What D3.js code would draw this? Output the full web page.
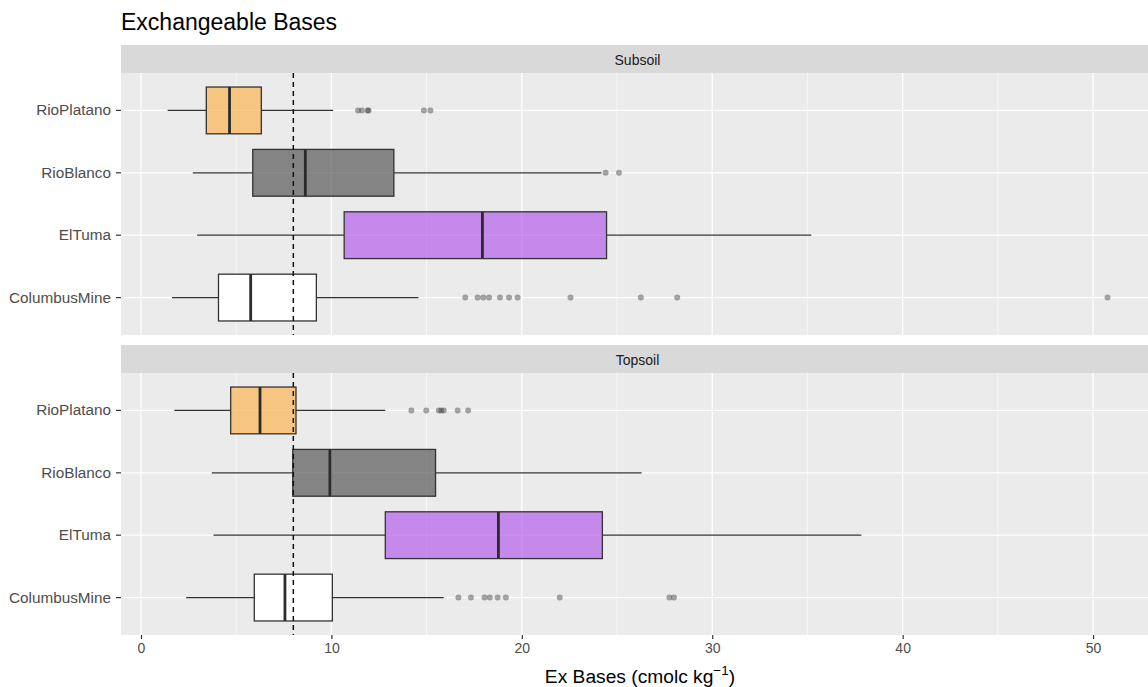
<!DOCTYPE html>
<html>
<head>
<meta charset="utf-8">
<script src="https://cdn.jsdelivr.net/npm/d3@7"></script>
<style>
  html, body { margin: 0; padding: 0; background: #fff; }
  svg { display: block; font-family: "Liberation Sans", Arial, Helvetica, sans-serif; }
</style>
</head>
<body>
<svg id="chart" width="1148" height="687"></svg>
<script>
// ---- Data ----
const sites = ["RioPlatano", "RioBlanco", "ElTuma", "ColumbusMine"];
const layers = ["Subsoil", "Topsoil"];
const siteColors = ["#FBB552", "#595959", "#B55FEC", "#FFFFFF"];

// [whiskerLow, Q1, median, Q3, whiskerHigh] per site
const subsoilStats = [
  [1.4, 3.43, 4.65, 6.32, 10.09],
  [2.72, 5.87, 8.63, 13.28, 24.18],
  [2.95, 10.67, 17.93, 24.45, 35.2],
  [1.63, 4.07, 5.76, 9.21, 14.57]
];
const topsoilStats = [
  [1.75, 4.71, 6.25, 8.14, 12.83],
  [3.72, 7.97, 9.92, 15.47, 26.29],
  [3.81, 12.83, 18.77, 24.23, 37.83],
  [2.37, 5.95, 7.56, 10.05, 15.9]
];
const subsoilOutliers = [
  [11.4, 11.6, 11.9, 11.95, 14.86, 15.2],
  [24.4, 25.1],
  [],
  [17.03, 17.68, 17.98, 18.28, 18.85, 19.33, 19.78, 22.56, 26.25, 28.16, 50.76]
];
const topsoilOutliers = [
  [14.2, 14.98, 15.64, 15.77, 15.9, 16.63, 17.18],
  [],
  [],
  [16.67, 17.33, 18.04, 18.32, 18.73, 19.16, 21.99, 27.75, 27.99]
];
const xTicks = [0, 10, 20, 30, 40, 50];
const xMinorTicks = [5, 15, 25, 35, 45];
const referenceLine = 8;

// ---- Layout ----
const svg = d3.select("#chart");
const panelLeft = 121, panelRight = 1154;
const panels = [
  { name: layers[0], stats: subsoilStats, outliers: subsoilOutliers, stripTop: 45, top: 73, bottom: 335 },
  { name: layers[1], stats: topsoilStats, outliers: topsoilOutliers, stripTop: 345, top: 373, bottom: 635 }
];

const x = d3.scaleLinear().domain([-1.05, 53.2]).range([panelLeft, panelRight]);

// Title
svg.append("text")
  .attr("x", 121).attr("y", 30)
  .attr("font-size", 23).attr("fill", "#000")
  .text("Exchangeable Bases");

panels.forEach(p => {
  const g = svg.append("g");
  // strip
  g.append("rect").attr("x", panelLeft).attr("y", p.stripTop)
    .attr("width", panelRight - panelLeft).attr("height", p.top - p.stripTop)
    .attr("fill", "#d9d9d9");
  g.append("text").attr("x", (panelLeft + panelRight) / 2).attr("y", p.stripTop + 19.5)
    .attr("text-anchor", "middle").attr("font-size", 14).attr("fill", "#1a1a1a")
    .text(p.name);
  // panel background
  g.append("rect").attr("x", panelLeft).attr("y", p.top)
    .attr("width", panelRight - panelLeft).attr("height", p.bottom - p.top)
    .attr("fill", "#ebebeb");

  // ggplot discrete axis: positions 1..n with 0.6 expansion on each side
  const step = (p.bottom - p.top) / (sites.length - 1 + 1.2);
  const yp = d => p.top + step * (0.6 + sites.indexOf(d));
  const bh = step * 0.75;

  // minor grid
  g.selectAll(".minor").data(xMinorTicks).enter().append("line")
    .attr("x1", d => x(d)).attr("x2", d => x(d))
    .attr("y1", p.top).attr("y2", p.bottom)
    .attr("stroke", "#fff").attr("stroke-width", 0.6);
  // major grid
  g.selectAll(".major").data(xTicks).enter().append("line")
    .attr("x1", d => x(d)).attr("x2", d => x(d))
    .attr("y1", p.top).attr("y2", p.bottom)
    .attr("stroke", "#fff").attr("stroke-width", 1.3);
  g.selectAll(".hgrid").data(sites).enter().append("line")
    .attr("x1", panelLeft).attr("x2", panelRight)
    .attr("y1", d => yp(d)).attr("y2", d => yp(d))
    .attr("stroke", "#fff").attr("stroke-width", 1.3);

  // boxes
  sites.forEach((s, i) => {
    const st = p.stats[i];
    const cy = yp(s);
    const bg = g.append("g");
    bg.append("line").attr("x1", x(st[0])).attr("x2", x(st[1])).attr("y1", cy).attr("y2", cy)
      .attr("stroke", "#333").attr("stroke-width", 1.2);
    bg.append("line").attr("x1", x(st[3])).attr("x2", x(st[4])).attr("y1", cy).attr("y2", cy)
      .attr("stroke", "#333").attr("stroke-width", 1.2);
    bg.append("rect").attr("x", x(st[1])).attr("y", cy - bh / 2)
      .attr("width", x(st[3]) - x(st[1])).attr("height", bh)
      .attr("fill", siteColors[i]).attr("fill-opacity", s === "ColumbusMine" ? 1 : 0.7)
      .attr("stroke", "#333").attr("stroke-width", 1.3);
    bg.append("line").attr("x1", x(st[2])).attr("x2", x(st[2]))
      .attr("y1", cy - bh / 2).attr("y2", cy + bh / 2)
      .attr("stroke", "#2b2b2b").attr("stroke-width", 2.8);
    bg.selectAll("circle").data(p.outliers[i]).enter().append("circle")
      .attr("cx", d => x(d)).attr("cy", cy).attr("r", 3)
      .attr("fill", "#333").attr("fill-opacity", 0.42);
  });

  // reference dashed line
  g.append("line").attr("x1", x(referenceLine)).attr("x2", x(referenceLine))
    .attr("y1", p.top).attr("y2", p.bottom)
    .attr("stroke", "#111").attr("stroke-width", 1.5).attr("stroke-dasharray", "5,4");

  // y axis labels and ticks
  sites.forEach(s => {
    const cy = yp(s);
    g.append("line").attr("x1", panelLeft - 5).attr("x2", panelLeft).attr("y1", cy).attr("y2", cy)
      .attr("stroke", "#333").attr("stroke-width", 1.2);
    g.append("text").attr("x", panelLeft - 10).attr("y", cy + 5)
      .attr("text-anchor", "end").attr("font-size", 15.3).attr("fill", "#4d4d4d").text(s);
  });
});

// x axis
const bottom = panels[1].bottom;
const xAxis = svg.append("g").attr("transform", `translate(0,${bottom})`)
  .call(d3.axisBottom(x).tickValues(xTicks).tickSize(4).tickPadding(4).tickFormat(d3.format("d")));
xAxis.select(".domain").remove();
xAxis.selectAll(".tick line").attr("stroke", "#333").attr("stroke-width", 1.2);
xAxis.selectAll(".tick text").attr("fill", "#4d4d4d").attr("font-size", 14)
  .attr("font-family", "Liberation Sans, Arial, sans-serif");

const xt = svg.append("text").attr("x", 640).attr("y", 683)
  .attr("text-anchor", "middle").attr("font-size", 19.2).attr("fill", "#000");
xt.append("tspan").text("Ex Bases (cmolc kg");
xt.append("tspan").attr("dy", -8).attr("font-size", 13.5).text("\u22121");
xt.append("tspan").attr("dy", 8).text(")");
</script>
</body>
</html>
